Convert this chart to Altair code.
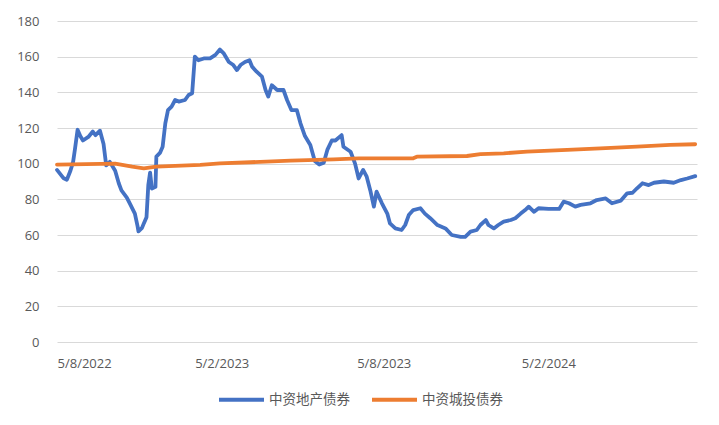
import altair as alt
import pandas as pd

series_names = ["中资地产债券", "中资城投债券"]
series_colors = ["#4472C4", "#ED7D31"]

blue_dates = [
    "2022-08-05", "2022-08-12", "2022-08-16", "2022-08-20", "2022-08-23", "2022-08-25",
    "2022-08-28", "2022-08-31", "2022-09-03", "2022-09-09", "2022-09-14", "2022-09-17",
    "2022-09-22", "2022-09-26", "2022-09-29", "2022-10-03", "2022-10-09", "2022-10-13",
    "2022-10-16", "2022-10-22", "2022-10-26", "2022-10-31", "2022-11-03", "2022-11-04",
    "2022-11-08", "2022-11-10", "2022-11-13", "2022-11-15", "2022-11-17", "2022-11-19",
    "2022-11-23", "2022-11-24", "2022-11-28", "2022-12-01", "2022-12-04", "2022-12-07",
    "2022-12-11", "2022-12-15", "2022-12-19", "2022-12-26", "2022-12-30", "2023-01-03",
    "2023-01-06", "2023-01-10", "2023-01-16", "2023-01-23", "2023-01-29", "2023-02-03",
    "2023-02-07", "2023-02-13", "2023-02-18", "2023-02-22", "2023-02-26", "2023-03-03",
    "2023-03-08", "2023-03-11", "2023-03-16", "2023-03-22", "2023-03-26", "2023-03-29",
    "2023-04-02", "2023-04-08", "2023-04-15", "2023-04-19", "2023-04-24", "2023-04-30",
    "2023-05-04", "2023-05-09", "2023-05-15", "2023-05-20", "2023-05-25", "2023-05-30",
    "2023-06-03", "2023-06-08", "2023-06-12", "2023-06-19", "2023-06-21", "2023-06-29",
    "2023-07-04", "2023-07-08", "2023-07-13", "2023-07-17", "2023-07-21", "2023-07-25",
    "2023-07-28", "2023-08-03", "2023-08-09", "2023-08-12", "2023-08-18", "2023-08-25",
    "2023-08-29", "2023-09-02", "2023-09-07", "2023-09-15", "2023-09-20", "2023-09-26",
    "2023-10-04", "2023-10-13", "2023-10-20", "2023-10-30", "2023-11-04", "2023-11-10",
    "2023-11-17", "2023-11-21", "2023-11-27", "2023-11-30", "2023-12-06", "2023-12-11",
    "2023-12-17", "2023-12-25", "2023-12-30", "2024-01-05", "2024-01-10", "2024-01-14",
    "2024-01-20", "2024-01-25", "2024-02-05", "2024-02-17", "2024-02-22", "2024-02-28",
    "2024-03-06", "2024-03-12", "2024-03-23", "2024-03-30", "2024-04-09", "2024-04-16",
    "2024-04-26", "2024-05-03", "2024-05-09", "2024-05-14", "2024-05-20", "2024-05-27",
    "2024-06-02", "2024-06-13", "2024-06-24", "2024-07-02", "2024-07-09", "2024-07-18",
]
blue_values = [
    96.5, 92, 91, 96, 101, 108,
    119, 115.5, 113, 115, 118, 116,
    118.5, 111, 99, 101, 96, 89,
    85, 81, 77, 72, 65, 62,
    64, 66.5, 70, 88, 95, 86,
    87, 104, 106, 109.5, 122.6, 130,
    132, 135.7, 134.8, 135.7, 138.5, 139.5,
    160, 158, 159, 159, 161, 164,
    162, 157, 155.3, 152.5, 155.3, 157,
    158, 154.4, 151.6, 148.8, 141.3, 137.6,
    144, 141.3, 141.3, 135.7, 130, 130,
    122.6, 115.5, 110.5, 101.5, 99.5, 100.5,
    107.7, 113, 113, 116, 109.5, 106.7,
    100, 91.7, 96.5, 92.7, 85, 75.9,
    84.3, 77.8, 72, 66.5, 63.7, 62.8,
    65.6, 71.2, 74, 75, 72, 69.4,
    65.6, 63.7, 60, 59, 59, 61.9,
    62.8, 65.6, 68.4, 65.6, 63.7, 65.6,
    67.5, 68.4, 69.4, 72, 74, 75.9,
    73, 75, 74.6, 74.6, 78.7, 77.8,
    75.9, 76.9, 77.8, 79.6, 80.5, 77.8,
    79.3, 83.4, 83.7, 86.2, 89, 88,
    89.3, 90, 89.3, 90.8, 91.7, 93,
]

orange_dates = [
    "2022-08-05", "2022-10-09", "2022-10-28", "2022-11-10", "2022-11-24", "2023-01-12",
    "2023-02-03", "2023-03-09", "2023-04-23", "2023-06-10", "2023-07-08", "2023-09-07",
    "2023-09-11", "2023-11-06", "2023-11-21", "2023-12-17", "2024-01-12", "2024-02-26",
    "2024-04-03", "2024-05-14", "2024-06-20", "2024-07-18",
]
orange_values = [
    99.5, 100, 98.3, 97.4, 98.3, 99.3,
    100.2, 100.8, 101.7, 102.4, 103, 103,
    103.9, 104.3, 105.4, 105.8, 106.7, 107.7,
    108.6, 109.5, 110.5, 110.9,
]

x_tick_dates = [(2022, 8, 5), (2023, 2, 5), (2023, 8, 5), (2024, 2, 5)]
y_ticks = [0, 20, 40, 60, 80, 100, 120, 140, 160, 180]

df = pd.concat([
    pd.DataFrame({"date": blue_dates, "value": blue_values, "series": series_names[0]}),
    pd.DataFrame({"date": orange_dates, "value": orange_values, "series": series_names[1]}),
], ignore_index=True)

label_color = "#595959"

chart = alt.Chart(df).mark_line(strokeWidth=3.8, strokeJoin="round", strokeCap="round").encode(
    x=alt.X(
        "date:T",
        scale=alt.Scale(
            type="utc",
            domain=[alt.DateTime(year=2022, month=8, date=5, utc=True),
                    alt.DateTime(year=2024, month=7, date=20, utc=True)],
        ),
        axis=alt.Axis(
            values=[alt.DateTime(year=y, month=m, date=d, utc=True) for (y, m, d) in x_tick_dates],
            format="%-d/%-m/%Y",
            title=None, grid=False, domain=False, ticks=False,
            labelPadding=15, labelColor=label_color, labelFont="Open Sans", labelFontSize=13,
        ),
    ),
    y=alt.Y(
        "value:Q",
        scale=alt.Scale(domain=[0, 180], nice=False),
        axis=alt.Axis(
            values=y_ticks, title=None, domain=False, ticks=False,
            gridColor="#d9d9d9", gridWidth=1.2,
            labelPadding=18, labelColor=label_color, labelFont="Open Sans", labelFontSize=13,
        ),
    ),
    color=alt.Color(
        "series:N",
        scale=alt.Scale(domain=series_names, range=series_colors),
        legend=alt.Legend(
            orient="none", legendX=160, legendY=354, direction="horizontal",
            title=None, symbolType="stroke", symbolSize=2025, symbolStrokeWidth=4,
            labelFont="Noto Sans CJK SC", labelFontSize=13.5, labelColor=label_color,
            labelOffset=3, columnPadding=14, padding=0,
        ),
    ),
).properties(
    width=640,
    height=321,
    autosize=alt.AutoSizeParams(type="none"),
    padding={"left": 49, "top": 13, "right": 14, "bottom": 70},
).configure_view(stroke=None)

chart.save("out.html", embed_options={"renderer": "svg", "actions": False})
